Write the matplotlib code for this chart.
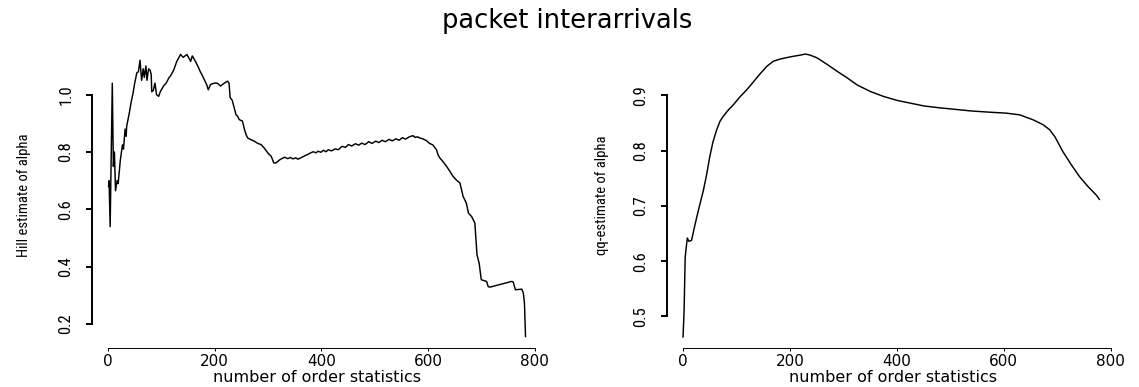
import matplotlib
matplotlib.use("Agg")
import matplotlib.pyplot as plt
from matplotlib import font_manager

# Hill estimates (left panel): (k, alpha)
hill_points = [
    (1, 0.68), (2, 0.70), (4, 0.54), (8, 1.04), (10, 0.75), (12, 0.80), (14, 0.665),
    (17, 0.70), (19, 0.69), (23, 0.77), (27, 0.825), (29, 0.81), (32, 0.88),
    (34, 0.855), (35, 0.89), (40, 0.937), (43, 0.97), (47, 1.006), (50, 1.04),
    (54, 1.076), (57, 1.08), (60, 1.12), (63, 1.05), (66, 1.09), (68, 1.06),
    (71, 1.10), (73, 1.05), (76, 1.09), (79, 1.085), (81, 1.07), (82, 1.01),
    (85, 1.015), (88, 1.04), (91, 1.0), (95, 0.994), (98, 1.01), (104, 1.03),
    (109, 1.04), (114, 1.058), (117, 1.065), (123, 1.085), (129, 1.116), (136, 1.14),
    (141, 1.13), (148, 1.14), (155, 1.116), (158, 1.135), (164, 1.116), (170, 1.093),
    (173, 1.08), (176, 1.07), (182, 1.047), (185, 1.035), (188, 1.017), (190, 1.025),
    (192, 1.035), (199, 1.04), (205, 1.04), (211, 1.03), (218, 1.04), (224, 1.047),
    (227, 1.04), (229, 0.99), (233, 0.98), (236, 0.958), (240, 0.93), (243, 0.925),
    (246, 0.913), (252, 0.908), (256, 0.878), (259, 0.86), (262, 0.849), (268, 0.843),
    (274, 0.838), (281, 0.83), (287, 0.826), (293, 0.814), (300, 0.796), (306, 0.785),
    (311, 0.762), (315, 0.762), (322, 0.773), (327, 0.778), (331, 0.782), (337, 0.777),
    (342, 0.781), (347, 0.776), (352, 0.780), (356, 0.775), (363, 0.781), (369, 0.787),
    (375, 0.792), (380, 0.797), (385, 0.801), (390, 0.797), (394, 0.803), (399, 0.799),
    (404, 0.806), (409, 0.801), (413, 0.808), (419, 0.804), (426, 0.811), (432, 0.808),
    (439, 0.820), (445, 0.816), (451, 0.826), (457, 0.821), (464, 0.829), (470, 0.824),
    (476, 0.831), (482, 0.826), (489, 0.836), (495, 0.830), (502, 0.838), (508, 0.833),
    (514, 0.841), (520, 0.836), (527, 0.844), (533, 0.839), (540, 0.846), (546, 0.841),
    (552, 0.850), (558, 0.845), (565, 0.853), (572, 0.857), (576, 0.851), (580, 0.853),
    (585, 0.849), (590, 0.846), (597, 0.840), (603, 0.830), (609, 0.825), (616, 0.808),
    (619, 0.790), (622, 0.780), (628, 0.767), (635, 0.750), (641, 0.733), (647, 0.715),
    (653, 0.703), (660, 0.692), (663, 0.668), (666, 0.645), (672, 0.622), (676, 0.587),
    (682, 0.575), (688, 0.552), (690, 0.494), (692, 0.442), (696, 0.413), (700, 0.355),
    (705, 0.352), (710, 0.349), (713, 0.331), (716, 0.329), (757, 0.349), (760, 0.347),
    (764, 0.320), (776, 0.322), (779, 0.308), (781, 0.273), (783, 0.157),
]
hill_k = [p[0] for p in hill_points]
hill_alpha = [p[1] for p in hill_points]

# qq estimates (right panel)
qq_k = [0, 2, 4, 6, 8, 11, 16, 20, 25, 31, 38, 44, 50, 56, 63, 69, 75, 85, 94, 107,
        119, 132, 144, 157, 169, 182, 201, 219, 229, 238, 251, 270, 288, 307, 326,
        351, 376, 401, 426, 451, 477, 508, 539, 570, 605, 630, 655, 674, 686, 696,
        711, 727, 742, 758, 774, 779]
qq_alpha = [0.463, 0.51, 0.607, 0.625, 0.642, 0.636, 0.638, 0.656, 0.677, 0.701,
            0.728, 0.756, 0.789, 0.816, 0.838, 0.853, 0.862, 0.874, 0.883, 0.898,
            0.91, 0.925, 0.939, 0.953, 0.962, 0.966, 0.97, 0.973, 0.975, 0.973,
            0.968, 0.956, 0.944, 0.932, 0.919, 0.907, 0.898, 0.891, 0.886, 0.881,
            0.878, 0.875, 0.872, 0.87, 0.868, 0.865, 0.856, 0.847, 0.838, 0.825,
            0.798, 0.774, 0.753, 0.735, 0.719, 0.712]

x_ticks = [0, 200, 400, 600, 800]
hill_ticks = [0.2, 0.4, 0.6, 0.8, 1.0]
qq_ticks = [0.5, 0.6, 0.7, 0.8, 0.9]

# pick a narrow face for the rotated (squeezed-looking) y texts
avail = {f.name for f in font_manager.fontManager.ttflist}
narrow = next((n for n in ["Liberation Sans Narrow", "Roboto Condensed",
                           "Open Sans Condensed"] if n in avail), None)
if narrow:
    yfont = dict(family=narrow)
else:
    yfont = dict(family="DejaVu Sans", stretch="condensed")

fig = plt.figure(figsize=(11.39, 3.87), dpi=100)
fig.patch.set_facecolor("white")


def r_style(ax, k, a, yticks, ylim, ylabel):
    ax.plot(k, a, color="black", lw=1.05)
    ax.set_xlim(-30, 814)
    ax.set_ylim(*ylim)
    for s in ["top", "right"]:
        ax.spines[s].set_visible(False)
    ax.spines["bottom"].set_bounds(0, 800)
    ax.spines["left"].set_bounds(yticks[0], yticks[-1])
    ax.spines["bottom"].set_linewidth(0.7)
    ax.spines["left"].set_linewidth(1.4)
    ax.set_xticks(x_ticks)
    ax.set_xticklabels([str(t) for t in x_ticks], fontsize=11, family="DejaVu Sans")
    ax.set_yticks(yticks)
    ax.set_yticklabels([f"{t:.1f}" for t in yticks], rotation=90, va="center",
                       fontsize=12, **yfont)
    ax.tick_params(axis="x", length=2.5, width=0.7, pad=1.5)
    ax.tick_params(axis="y", length=4, width=1.4, pad=9.5)
    ax.set_xlabel("number of order statistics", fontsize=11.5, family="DejaVu Sans",
                  va="top")
    ax.xaxis.set_label_coords(0.5, -0.072)
    ax.set_ylabel(ylabel, fontsize=10.5, **yfont)


ax1 = fig.add_axes([0.0808, 0.1008, 0.3951, 0.7881])
r_style(ax1, hill_k, hill_alpha, hill_ticks, (0.117, 1.18), "Hill estimate of alpha")
ax1.yaxis.set_label_coords(-0.136, 0.5)

ax2 = fig.add_axes([0.5856, 0.1008, 0.3960, 0.7881])
r_style(ax2, qq_k, qq_alpha, qq_ticks, (0.443, 0.995), "qq-estimate of alpha")
ax2.yaxis.set_label_coords(-0.129, 0.5)

fig.text(0.498, 1 - 21 / 387, "packet interarrivals", ha="center", va="center",
         fontsize=18.5, family="DejaVu Sans")

fig.savefig("out.png", dpi=100, facecolor="white")
